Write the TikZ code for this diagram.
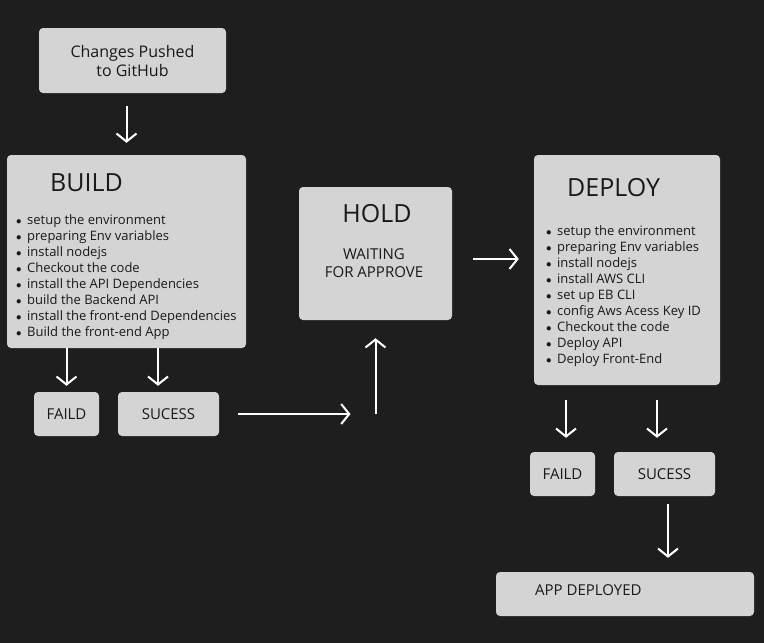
\documentclass[tikz,border=0pt]{standalone}
\usepackage{fontspec}
\setmainfont{Open Sans}
\usetikzlibrary{arrows.meta}
\definecolor{bgdark}{RGB}{30,30,30}
\definecolor{boxgray}{RGB}{212,212,212}
\definecolor{inkdark}{RGB}{25,25,25}
\tikzset{
  card/.style={draw=none, fill=boxgray, rounded corners=4pt, inner sep=0pt},
  flow/.style={draw=white, line width=2pt, -{Straight Barb[length=8pt,width=20pt,line width=2pt]}},
  headline/.style={text=inkdark, font=\fontsize{25}{25}\selectfont, inner sep=0pt},
  cardtext/.style={text=inkdark, font=\fontsize{15}{18}\selectfont, align=center},
  steplist/.style={text=inkdark, font=\fontsize{13}{16}\selectfont, inner sep=0pt, align=left, anchor=north west},
}
\newcommand{\stepdot}{\makebox[11pt][l]{\fontsize{11}{11}\selectfont$\bullet$}}
\begin{document}
\begin{tikzpicture}[x=1pt,y=-1pt]
        \fill[bgdark] (0,0) rectangle (764,643);
        \useasboundingbox (0,0) rectangle (764,643);
        \node[card, cardtext, font=\fontsize{16}{19}\selectfont, minimum width=187pt, minimum height=65pt] (push) at (132.5,60.5) {Changes Pushed\\to GitHub};
        \node[card, minimum width=239pt, minimum height=193pt] (build) at (126.5,251.5) {};
        \node[headline, anchor=west] (buildtitle) at (50,183) {BUILD};
        \node[steplist] (buildsteps) at (16,214) {\stepdot setup the environment\\\stepdot preparing Env variables\\\stepdot install nodejs\\\stepdot Checkout the code\\\stepdot install the API Dependencies\\\stepdot build the Backend API\\\stepdot install the front-end Dependencies\\\stepdot Build the front-end App};
        \node[card, cardtext, minimum width=65pt, minimum height=44pt] (bfail) at (66.5,414) {FAILD};
        \node[card, cardtext, minimum width=101pt, minimum height=44pt] (bsucc) at (168.5,414) {SUCESS};
        \node[card, minimum width=153pt, minimum height=133pt] (hold) at (375.5,253.5) {};
        \node[headline] (holdtitle) at (377,214) {HOLD};
        \node[cardtext, inner sep=0pt] (holdnote) at (374,263) {WAITING\\FOR APPROVE};
        \node[card, minimum width=186pt, minimum height=230pt] (deploy) at (627,270) {};
        \node[headline, anchor=west] (deploytitle) at (567,188) {DEPLOY};
        \node[steplist] (deploysteps) at (546,225) {\stepdot setup the environment\\\stepdot preparing Env variables\\\stepdot install nodejs\\\stepdot install AWS CLI\\\stepdot set up EB CLI\\\stepdot config Aws Acess Key ID\\\stepdot Checkout the code\\\stepdot Deploy API\\\stepdot Deploy Front-End};
        \node[card, cardtext, minimum width=65pt, minimum height=44pt] (dfail) at (562.5,474) {FAILD};
        \node[card, cardtext, minimum width=101pt, minimum height=44pt] (dsucc) at (664.5,474) {SUCESS};
        \node[card, minimum width=258pt, minimum height=44pt] (app) at (625,594) {};
        \node[cardtext, anchor=west, inner sep=0pt] (apptext) at (535,590) {APP DEPLOYED};
        \coordinate (turn) at (hold.south |- bsucc.east);
        \coordinate (bsuccin) at ([xshift=-10.5pt]bsucc.north);
        \coordinate (dfailin) at ([xshift=3.5pt]dfail.north);
        \coordinate (dsuccin) at ([xshift=-7.5pt]dsucc.north);
        \coordinate (dsuccout) at ([xshift=3.5pt]dsucc.south);
        \coordinate (holdout) at ([yshift=-5.5pt]hold.east);
        \draw[flow, shorten <=13pt, shorten >=12pt] (push.south -| build.north) -- (build.north);
        \draw[flow, shorten >=6pt] (build.south -| bfail.north) -- (bfail.north);
        \draw[flow, shorten >=6pt] (build.south -| bsuccin) -- (bsuccin);
        \draw[flow, shorten <=19pt, shorten >=25pt] (bsucc.east) -- (turn);
        \draw[flow, shorten >=18pt] (turn) -- (hold.south);
        \draw[flow, shorten <=21pt, shorten >=15pt] (holdout) -- (holdout -| deploy.west);
        \draw[flow, shorten <=15pt, shorten >=14pt] (deploy.south -| dfailin) -- (dfailin);
        \draw[flow, shorten <=15pt, shorten >=14pt] (deploy.south -| dsuccin) -- (dsuccin);
        \draw[flow, shorten <=8pt, shorten >=14pt] (dsuccout) -- (dsuccout |- app.north);
    \end{tikzpicture}
\end{document}
